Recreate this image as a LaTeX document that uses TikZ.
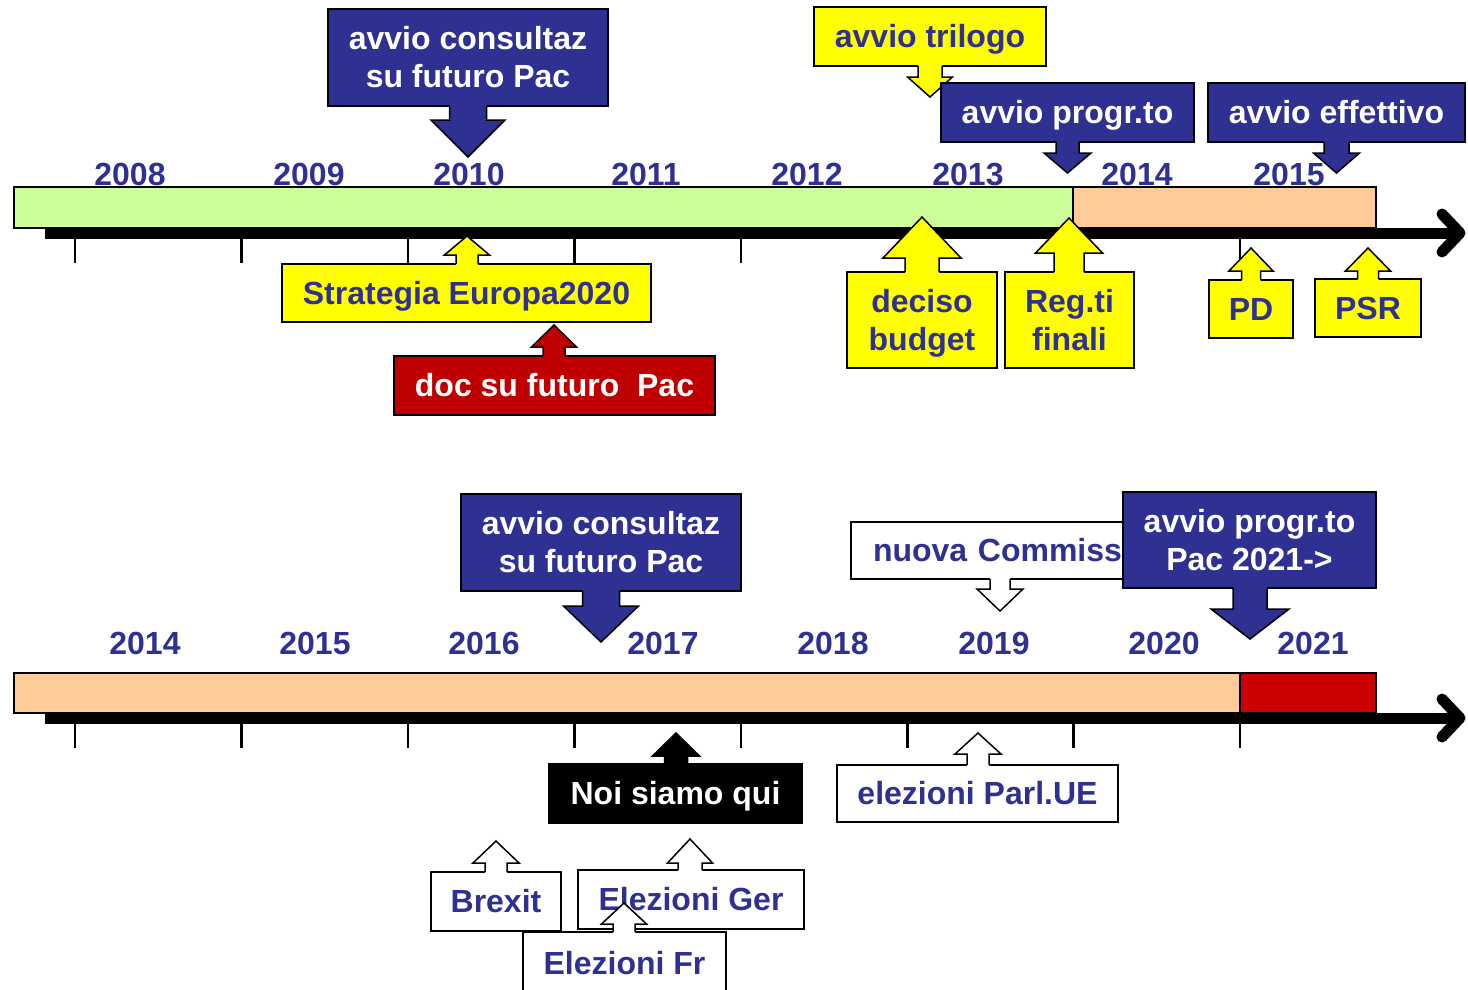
\documentclass[tikz,border=0pt]{standalone}
\usepackage{fontspec}
\setmainfont{Liberation Sans}
\usepackage{tikz}
\definecolor{pacnavy}{HTML}{2E3192}
\definecolor{pacyellow}{HTML}{FFFF00}
\definecolor{pacgreen}{HTML}{CCFF99}
\definecolor{pacorange}{HTML}{FFCC99}
\definecolor{pacred}{HTML}{C00000}
\definecolor{pacbar}{HTML}{CC0000}
\newcommand{\tstrut}{\rule[-7pt]{0pt}{36pt}}
% pointer of a callout: box, colour, x, head y, tip y, half head, half shaft
\newcommand{\calldown}[7]{%
  \fill[#2] ({#3-#7},0 |- #1.south) -- ++(0,-3) -| ({#3+#7},#4) -- ({#3+#6},#4)
    -- (#3,#5) -- ({#3-#6},#4) -- ({#3-#7},#4) -- cycle;
  \draw[callline] ({#3-#7},0 |- #1.south) -- ({#3-#7},#4) -- ({#3-#6},#4) -- (#3,#5)
    -- ({#3+#6},#4) -- ({#3+#7},#4) -- ({#3+#7},0 |- #1.south);}
\newcommand{\callup}[7]{%
  \fill[#2] ({#3-#7},0 |- #1.north) -- ++(0,3) -| ({#3+#7},#4) -- ({#3+#6},#4)
    -- (#3,#5) -- ({#3-#6},#4) -- ({#3-#7},#4) -- cycle;
  \draw[callline] ({#3-#7},0 |- #1.north) -- ({#3-#7},#4) -- ({#3-#6},#4) -- (#3,#5)
    -- ({#3+#6},#4) -- ({#3+#7},#4) -- ({#3+#7},0 |- #1.north);}
\begin{document}
\begin{tikzpicture}[x=1pt,y=-1pt,font=\bfseries\fontsize{32}{38}\selectfont,
  callline/.style={line width=1.5},
  cbox/.style={draw,line width=1.5,outer sep=0pt,inner sep=0pt,align=center},
  oneline/.style={text height=29pt,text depth=7pt},
  navybox/.style={cbox,fill=pacnavy,text=white},
  yelbox/.style={cbox,fill=pacyellow,text=pacnavy},
  whitebox/.style={cbox,fill=white,text=pacnavy},
  year/.style={text=pacnavy,anchor=base}]
  \useasboundingbox (0,0) rectangle (1468,989);
  % ---- 2008-2015 ----
  \draw[line width=1.2,fill=pacgreen] (14,187) rectangle (1073,228);
  \draw[line width=1.2,fill=pacorange] (1073,187) rectangle (1376,228);
  \draw[line width=11] (45,233) -- (1456,233);
  \draw[line width=11,line cap=round,line join=round] (1442,214) -- (1460,233) -- (1442,252);
  \foreach \tx in {75,241.5,408,574.5,741,907.5,1073.5}
    \draw[line width=2.5] (\tx,238) -- (\tx,263);
  \draw[line width=1.2] (1240,238) -- (1240,263);
  \foreach \tx/\yr in {130/2008,309/2009,469/2010,646/2011,807/2012,968/2013,1137/2014,1289/2015}
    \node[year] (t\yr) at (\tx,185) {\yr};
  \node[navybox,minimum width=280,minimum height=97] (cons1) at (468,57.5) {\tstrut avvio consultaz\\su futuro Pac\tstrut};
  \calldown{cons1}{pacnavy}{468}{120}{157}{37}{18.5}
  \node[yelbox,oneline,minimum width=232,minimum height=59] (trilogo) at (930,36.5) {avvio trilogo};
  \calldown{trilogo}{pacyellow}{930}{77}{97}{22.5}{12}
  \node[navybox,oneline,minimum width=253,minimum height=59] (progr1) at (1067.5,112.5) {avvio progr.to};
  \calldown{progr1}{pacnavy}{1067.5}{153}{173}{23.5}{11.5}
  \node[navybox,oneline,minimum width=257,minimum height=59] (effett) at (1336.5,112.5) {avvio effettivo};
  \calldown{effett}{pacnavy}{1336.5}{153}{173}{23}{12.5}
  \node[yelbox,oneline,minimum width=369,minimum height=58] (europa) at (466.5,293) {Strategia Europa2020};
  \callup{europa}{pacyellow}{467}{255}{236}{22.5}{11}
  \node[cbox,oneline,fill=pacred,text=white,minimum width=321,minimum height=59] (docpac) at (554.5,385.5) {doc su futuro~~Pac};
  \callup{docpac}{pacred}{554}{347}{325}{22.5}{11}
  \node[yelbox,minimum width=150,minimum height=96] (budget) at (922,320) {\tstrut deciso\\budget\tstrut};
  \callup{budget}{pacyellow}{922}{258}{217}{39}{17}
  \node[yelbox,minimum width=129,minimum height=96] (regti) at (1069.5,320) {\tstrut Reg.ti\\finali\tstrut};
  \callup{regti}{pacyellow}{1069}{253}{218}{33.5}{15}
  \node[yelbox,oneline,minimum width=84,minimum height=58] (pd) at (1251,309) {PD};
  \callup{pd}{pacyellow}{1251}{271}{248}{22}{9.5}
  \node[yelbox,oneline,minimum width=106,minimum height=58] (psr) at (1368,308) {PSR};
  \callup{psr}{pacyellow}{1368}{271}{248}{22.5}{10.5}
  % ---- 2014-2021 ----
  \draw[line width=1.2,fill=pacorange] (14,673) rectangle (1240,713);
  \draw[line width=1.2,fill=pacbar] (1240,673) rectangle (1376,713);
  \draw[line width=11] (45,718) -- (1456,718);
  \draw[line width=11,line cap=round,line join=round] (1442,699) -- (1460,718) -- (1442,737);
  \foreach \tx in {75,241.5,408,574.5,741,907.5,1073.5}
    \draw[line width=2.5] (\tx,723) -- (\tx,748);
  \draw[line width=1.2] (1240,723) -- (1240,748);
  \foreach \tx/\yr in {145/2014,315/2015,484/2016,663/2017,833/2018,994/2019,1164/2020,1313/2021}
    \node[year] (b\yr) at (\tx,654) {\yr};
  \node[navybox,minimum width=280,minimum height=97] (cons2) at (601,542.5) {\tstrut avvio consultaz\\su futuro Pac\tstrut};
  \calldown{cons2}{pacnavy}{601}{606}{642}{37.5}{18.5}
  \node[whitebox,oneline,text width=290,inner xsep=22,align=left,minimum height=57] (commiss) at (1018,550.5) {nuova Commiss.};
  \calldown{commiss}{white}{1000}{589}{611}{23}{10}
  \node[navybox,minimum width=253,minimum height=96] (progr2) at (1249.5,540) {\tstrut avvio progr.to\\Pac 2021->\tstrut};
  \calldown{progr2}{pacnavy}{1250}{609}{639}{39}{17}
  \node[cbox,oneline,fill=black,text=white,minimum width=253,minimum height=59] (qui) at (675.5,793.5) {Noi siamo qui};
  \callup{qui}{black}{676}{756}{733}{23.5}{11.5}
  \node[whitebox,oneline,minimum width=281,minimum height=57] (parlue) at (977.5,793.5) {elezioni Parl.UE};
  \callup{parlue}{white}{978}{754}{733}{23}{11}
  \node[whitebox,oneline,minimum width=130,minimum height=59] (brexit) at (496,901.5) {Brexit};
  \callup{brexit}{white}{496}{863}{841}{23}{11}
  \node[whitebox,oneline,minimum width=226,minimum height=59] (elger) at (691,899.5) {Elezioni Ger};
  \callup{elger}{white}{690}{863}{839}{22.5}{12}
  \node[whitebox,oneline,minimum width=203,minimum height=63] (elfr) at (624.5,963.5) {Elezioni Fr};
  \callup{elfr}{white}{624}{924}{903}{22.5}{11}
\end{tikzpicture}
\end{document}
